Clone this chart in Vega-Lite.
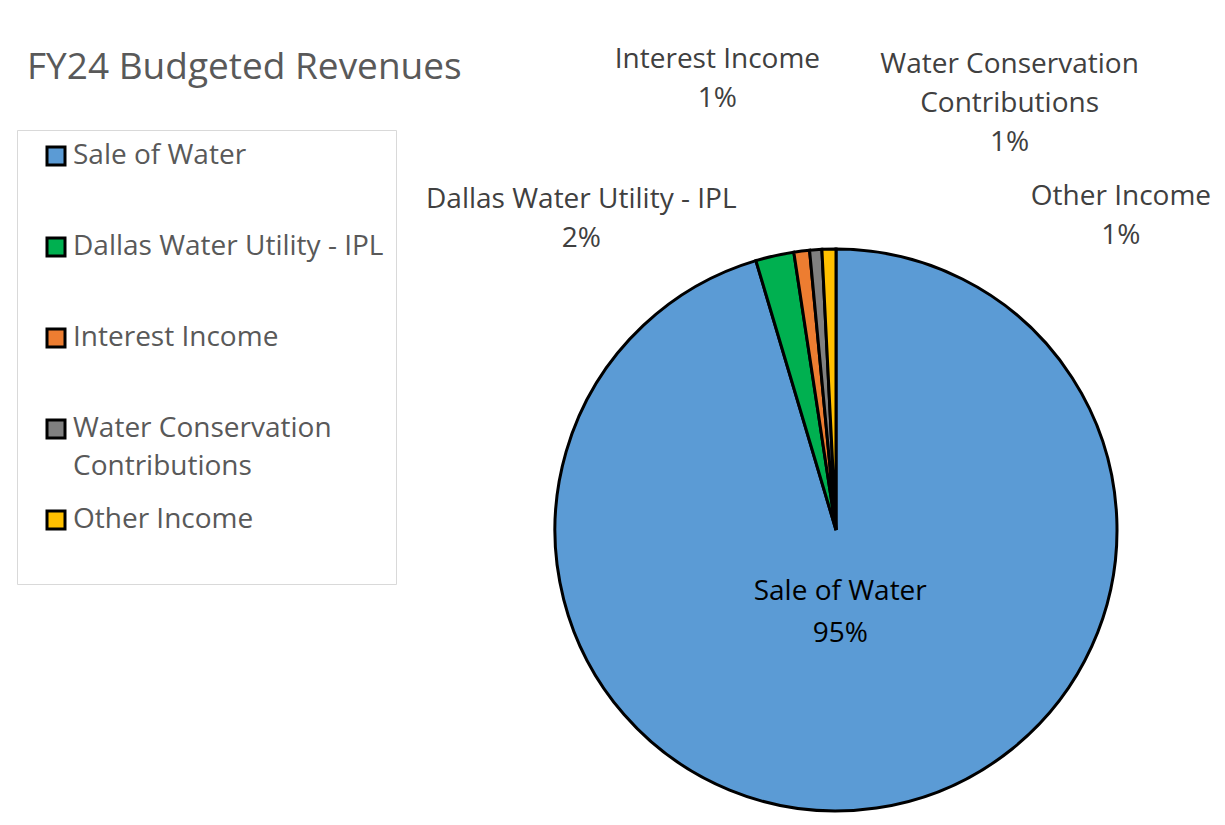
{
  "$schema": "https://vega.github.io/schema/vega-lite/v6.json",
  "autosize": "none",
  "width": 566,
  "height": 566,
  "padding": {"left": 553, "top": 247, "right": 106, "bottom": 12},
  "background": "white",
  "title": {
    "text": "FY24 Budgeted Revenues",
    "anchor": "start",
    "frame": "group",
    "font": "Open Sans",
    "fontSize": 37,
    "fontWeight": "normal",
    "color": "#595959",
    "dx": -526,
    "dy": 47
  },
  "data": {
    "values": [
      {"category": "Sale of Water", "value": 95.4, "rank": 1, "label": "Sale of Water\n95%"},
      {"category": "Dallas Water Utility - IPL", "value": 2.2, "rank": 2, "label": "Dallas Water Utility - IPL\n2%"},
      {"category": "Interest Income", "value": 0.9, "rank": 3, "label": "Interest Income\n1%"},
      {"category": "Water Conservation Contributions", "value": 0.7, "rank": 4, "label": "Water Conservation\nContributions\n1%"},
      {"category": "Other Income", "value": 0.8, "rank": 5, "label": "Other Income\n1%"}
    ]
  },
  "encoding": {
    "theta": {"field": "value", "type": "quantitative", "stack": true},
    "order": {"field": "rank", "type": "quantitative"}
  },
  "layer": [
    {
      "mark": {"type": "arc", "outerRadius": 281, "stroke": "black", "strokeWidth": 3, "strokeJoin": "miter"},
      "encoding": {
        "color": {
          "field": "category",
          "type": "nominal",
          "scale": {
            "domain": ["Sale of Water", "Dallas Water Utility - IPL", "Interest Income", "Water Conservation Contributions", "Other Income"],
            "range": ["#5B9BD5", "#00B050", "#ED7D31", "#808080", "#FFC000"]
          },
          "legend": {
            "title": null,
            "orient": "none",
            "legendX": -536,
            "legendY": -117,
            "direction": "vertical",
            "symbolType": "square",
            "symbolSize": 324,
            "symbolStrokeColor": "black",
            "symbolStrokeWidth": 3,
            "symbolOffset": 13,
            "labelFont": "Open Sans",
            "labelFontSize": 28,
            "labelColor": "#595959",
            "labelOffset": 3,
            "labelLimit": 450,
            "labelExpr": "datum.label == 'Water Conservation Contributions' ? ['Water Conservation', 'Contributions'] : [datum.label + '\u00a0\u00a0', '']",
            "rowPadding": 24,
            "padding": 12,
            "strokeColor": "#d9d9d9",
            "fillColor": "white"
          }
        }
      }
    },
    {
      "mark": {"type": "text", "radius": 78, "font": "Open Sans", "fontSize": 28, "lineBreak": "\n", "lineHeight": 42, "align": "center", "baseline": "alphabetic", "color": "black", "dx": -7, "dy": -7},
      "encoding": {
        "text": {"condition": {"test": "datum.category == 'Sale of Water'", "field": "label"}, "value": ""}
      }
    },
    {
      "mark": {"type": "text", "radius": 283, "font": "Open Sans", "fontSize": 28, "lineBreak": "\n", "lineHeight": 39, "align": "center", "baseline": "alphabetic", "color": "#404040", "dx": -193, "dy": -46},
      "encoding": {
        "text": {"condition": {"test": "datum.category == 'Dallas Water Utility - IPL'", "field": "label"}, "value": ""}
      }
    },
    {
      "mark": {"type": "text", "radius": 283, "font": "Open Sans", "fontSize": 28, "lineBreak": "\n", "lineHeight": 39, "align": "center", "baseline": "alphabetic", "color": "#404040", "dx": -84, "dy": -181},
      "encoding": {
        "text": {"condition": {"test": "datum.category == 'Interest Income'", "field": "label"}, "value": ""}
      }
    },
    {
      "mark": {"type": "text", "radius": 283, "font": "Open Sans", "fontSize": 28, "lineBreak": "\n", "lineHeight": 39, "align": "center", "baseline": "alphabetic", "color": "#404040", "dx": 194, "dy": -175},
      "encoding": {
        "text": {"condition": {"test": "datum.category == 'Water Conservation Contributions'", "field": "label"}, "value": ""}
      }
    },
    {
      "mark": {"type": "text", "radius": 283, "font": "Open Sans", "fontSize": 28, "lineBreak": "\n", "lineHeight": 39, "align": "center", "baseline": "alphabetic", "color": "#404040", "dx": 292, "dy": -42},
      "encoding": {
        "text": {"condition": {"test": "datum.category == 'Other Income'", "field": "label"}, "value": ""}
      }
    }
  ],
  "config": {
    "view": {"stroke": null},
    "style": {"guide-label": {"lineHeight": 38}}
  }
}
